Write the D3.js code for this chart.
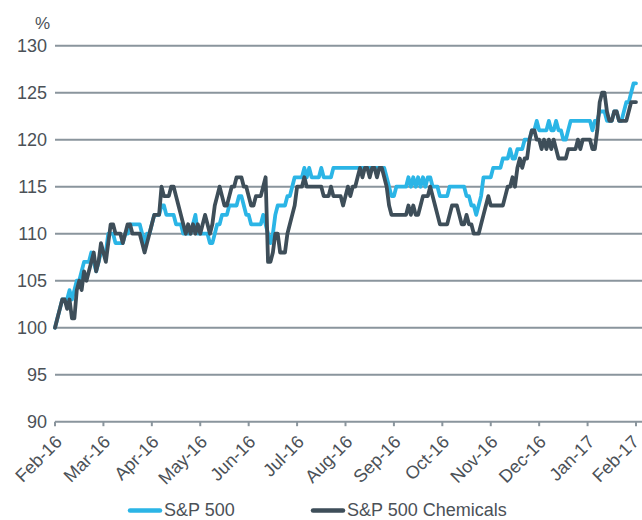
<!DOCTYPE html>
<html>
<head>
<meta charset="utf-8">
<script src="https://cdn.jsdelivr.net/npm/d3@7"></script>
<style>
  html, body { margin: 0; padding: 0; background: #fff; }
  svg { display: block; font-family: "Liberation Sans", Arial, Helvetica, sans-serif; }
</style>
</head>
<body>
<svg id="chart" width="642" height="520"></svg>
<script>
// Month tick labels (equally spaced categories)
const monthLabels = ["Feb-16","Mar-16","Apr-16","May-16","Jun-16","Jul-16","Aug-16","Sep-16","Oct-16","Nov-16","Dec-16","Jan-17","Feb-17"];
const yTicks = [90, 95, 100, 105, 110, 115, 120, 125, 130];
const pointsPerMonth = 20;

// S&P 500 (indexed, %)
const sp500 = [
  100,101,102,103,103,103,104,103,104,105,
  105,106,107,107,107,108,107,106,107,108,
  108,108,110,110,110,109,109,109,109,110,
  110,111,111,111,111,111,110,109,110,110,
  111,112,112,112,113,113,112,112,112,112,
  111,111,111,110,110,110,110,111,112,110,
  110,110,110,110,109,109,110,111,111,112,
  112,112,113,113,113,113,114,114,113,112,
  112,111,111,111,111,111,112,111,110,109,
  110,112,113,113,113,113,114,114,115,116,
  116,116,116,117,116,117,116,116,116,116,
  117,116,116,116,116,117,117,117,117,117,
  117,117,117,117,117,117,117,117,117,117,
  117,117,117,117,117,117,117,116,115,114,
  114,115,115,115,115,115,116,115,116,115,
  116,115,116,115,116,116,115,115,115,114,
  114,114,114,115,115,115,115,115,115,115,
  114,114,113,113,112,113,114,116,116,116,
  116,117,117,117,117,118,118,118,119,118,
  118,119,119,119,120,120,120,121,121,122,
  121,121,121,121,122,121,121,122,121,121,
  120,120,121,122,122,122,122,122,122,122,
  122,122,121,122,122,123,123,123,122,122,
  122,123,123,122,122,123,124,124,125,126,126
];

// S&P 500 Chemicals (indexed, %)
const chemicals = [
  100,101,102,103,103,102,103,101,101,104,
  105,104,106,105,106,107,108,106,107,109,
  108,107,109,111,111,110,110,110,109,110,
  111,111,110,110,110,110,109,108,109,110,
  111,112,112,112,115,114,114,114,115,115,
  114,113,112,111,110,111,110,111,110,111,
  110,111,112,111,110,111,113,114,115,114,
  113,113,114,115,115,116,116,116,115,115,
  114,113,113,114,114,114,115,116,107,107,
  108,110,110,108,108,108,110,111,112,113,
  115,115,115,116,115,115,115,115,115,115,
  115,114,114,114,115,114,114,114,114,113,
  114,115,114,115,115,116,117,116,117,117,
  116,117,117,116,117,117,116,115,113,112,
  112,112,112,112,112,112,113,112,113,112,
  112,113,114,114,114,115,114,113,112,111,
  111,111,111,112,113,113,113,112,111,111,
  112,111,111,110,110,110,111,112,113,114,
  113,113,113,113,113,113,114,115,115,116,
  115,117,118,117,118,118,120,121,121,120,
  120,119,120,119,120,119,120,119,118,118,
  118,118,119,119,119,119,120,119,120,120,
  120,120,119,119,121,124,125,125,123,122,
  122,123,123,122,122,122,122,123,124,124,124
];

const seriesNames = ["S&P 500", "S&P 500 Chemicals"];
const seriesColors = ["#2bb5e6", "#3e4e59"];

const svg = d3.select("#chart");
const gridColor = "#8a959d";
const textColor = "#4b5157";

const x = d3.scaleLinear().domain([0, monthLabels.length - 1]).range([55, 636]);
const y = d3.scaleLinear().domain([90, 130]).range([421.7, 45.7]);

// gridlines
svg.append("g").selectAll("line").data(yTicks).join("line")
  .attr("x1", 55).attr("x2", 642)
  .attr("y1", d => y(d)).attr("y2", d => y(d))
  .attr("stroke", gridColor).attr("stroke-width", 2);

// y labels
svg.append("g").selectAll("text").data(yTicks).join("text")
  .attr("x", 47).attr("y", d => y(d)).attr("dy", "0.36em")
  .attr("text-anchor", "end").attr("font-size", 18).attr("fill", textColor)
  .text(d => d);

svg.append("text").attr("x", 50).attr("y", 23).attr("dy", "0.36em")
  .attr("text-anchor", "end").attr("font-size", 17).attr("fill", textColor).text("%");

// x ticks
const xt = svg.append("g");
xt.selectAll("line").data(monthLabels).join("line")
  .attr("x1", (d, i) => x(i)).attr("x2", (d, i) => x(i))
  .attr("y1", y(90)).attr("y2", y(90) + 4.5)
  .attr("stroke", gridColor).attr("stroke-width", 2);
xt.selectAll("text").data(monthLabels).join("text")
  .attr("transform", (d, i) => `translate(${Math.min(x(i) + 8, 640)},${443}) rotate(-45)`)
  .attr("text-anchor", "end").attr("font-size", 18).attr("fill", textColor)
  .text(d => d);

// lines
const line = d3.line()
  .x((d, i) => x(i / pointsPerMonth))
  .y(d => y(d))
  .curve(d3.curveLinear);

[sp500, chemicals].forEach((s, k) => {
  svg.append("path").datum(s)
    .attr("d", line)
    .attr("fill", "none")
    .attr("stroke", seriesColors[k])
    .attr("stroke-width", 3.8)
    .attr("stroke-linejoin", "round")
    .attr("stroke-linecap", "round");
});

// legend
const legendX = [130, 313];
const lg = svg.append("g");
seriesNames.forEach((name, k) => {
  lg.append("line")
    .attr("x1", legendX[k]).attr("x2", legendX[k] + 30)
    .attr("y1", 510.5).attr("y2", 510.5)
    .attr("stroke", seriesColors[k]).attr("stroke-width", 4.5)
    .attr("stroke-linecap", "round");
  lg.append("text")
    .attr("x", legendX[k] + 34).attr("y", 510).attr("dy", "0.35em")
    .attr("font-size", 18).attr("fill", textColor)
    .text(name);
});
</script>
</body>
</html>
